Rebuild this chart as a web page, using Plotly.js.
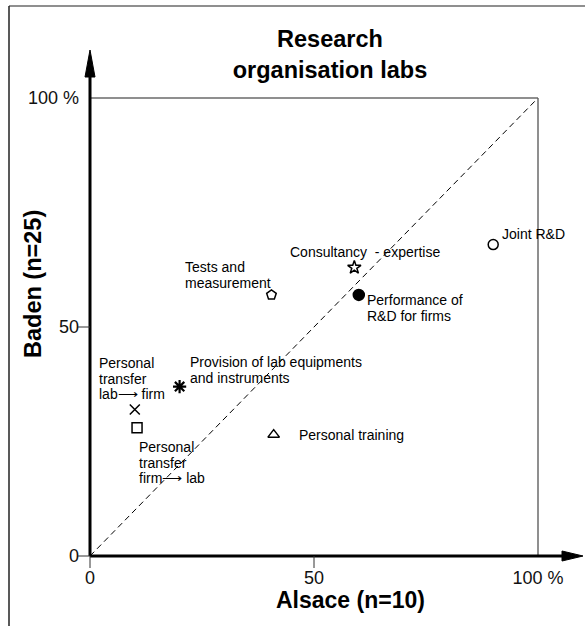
<!DOCTYPE html>
<html>
<head>
<meta charset="utf-8">
<script src="https://cdn.plot.ly/plotly-3.0.1.min.js"></script>
<style>html,body{margin:0;padding:0;background:#fff;}#chart{width:585px;height:626px;}</style>
</head>
<body>
<div id="chart"></div>
<script>
// ---- data ----
const activities = ["Joint R&D", "Consultancy - expertise", "Performance of R&D for firms",
  "Tests and measurement", "Provision of lab equipments and instruments",
  "Personal transfer lab → firm", "Personal transfer firm → lab", "Personal training"];
const alsace = [90, 59, 60, 40.5, 20, 10, 10.5, 41];
const baden  = [68, 63, 57, 57, 37, 32, 28, 26.5];
const symbols = ["circle-open", "star-open", "circle", "pentagon-open", "asterisk-open",
  "x-thin-open", "square-open", "triangle-up-open"];
const tickValues = [0, 50, 100];
const tickLabels = ["0", "50", "100 %"];
const tickMarks = [0, 50];
const diagonal = [0, 100];

// ---- layout helpers (pixel -> paper) ----
const L = 90, T = 98, W = 448, H = 458;
const px = v => (v - L) / W;
const py = v => (T + H - v) / H;

const font = "Liberation Sans, Arial, sans-serif";
const markerSizes = [10, 10, 11, 10, 11, 10, 10, 10];

const traces = [
  {x: diagonal, y: diagonal, mode: "lines", type: "scatter",
   line: {color: "#000", width: 1, dash: "6px,4px"}, hoverinfo: "skip", cliponaxis: false},
  {x: alsace, y: baden, text: activities, mode: "markers", type: "scatter",
   marker: {symbol: symbols, size: markerSizes, color: "#000", opacity: 1,
            line: {color: "#000", width: symbols.map(s => s === "asterisk-open" ? 2.2 : 1.5)}},
   cliponaxis: false}
];

// label text, placed by line
const labelDefs = [
  {lines: ["Joint R&D"], x: 500, y: 234},
  {lines: ["Consultancy\u00a0\u00a0- expertise"], x: 288, y: 252},
  {lines: ["Performance of", "R&D for firms"], x: 365, y: 300},
  {lines: ["Tests and", "measurement"], x: 183, y: 267},
  {lines: ["Provision of lab equipments", "and instruments"], x: 188, y: 362},
  {lines: ["Personal", "transfer", "lab\u27F6 firm"], x: 97, y: 363},
  {lines: ["Personal", "transfer", "firm\u27F6 lab"], x: 137, y: 447},
  {lines: ["Personal training"], x: 297, y: 435}
];
const annotations = [];
labelDefs.forEach(d => {
  d.lines.forEach((t, i) => {
    annotations.push({xref: "paper", yref: "paper", x: px(d.x), y: py(d.y + i * 15.7),
      xanchor: "left", yanchor: "middle", text: t, showarrow: false,
      font: {family: font, size: 14, color: "#000"}});
  });
});
annotations.push({xref: "paper", yref: "paper", x: px(350), y: py(600), xanchor: "center", yanchor: "middle",
  text: "<b>Alsace (n=10)</b>", showarrow: false, font: {family: font, size: 23, color: "#000"}});
annotations.push({xref: "paper", yref: "paper", x: px(33), y: py(284), xanchor: "center", yanchor: "middle",
  text: "<b>Baden (n=25)</b>", textangle: -90, showarrow: false, font: {family: font, size: 23.5, color: "#000"}});

const shapes = [];
const gray = "#6a6a6a";
// outer frame (top and left)
shapes.push({type: "line", xref: "paper", yref: "paper", x0: px(9), x1: px(590), y0: py(6), y1: py(6), line: {color: gray, width: 1.5}});
shapes.push({type: "line", xref: "paper", yref: "paper", x0: px(9), x1: px(9), y0: py(6), y1: py(630), line: {color: "#222", width: 1.5}});
// inner frame top/right
shapes.push({type: "line", xref: "paper", yref: "paper", x0: 0, x1: 1, y0: 1, y1: 1, line: {color: gray, width: 1.5}});
shapes.push({type: "line", xref: "paper", yref: "paper", x0: 1, x1: 1, y0: 0, y1: 1, line: {color: gray, width: 1.5}});
// axes lines
shapes.push({type: "line", xref: "paper", yref: "paper", x0: 0, x1: 0, y0: 0, y1: py(70), line: {color: "#000", width: 3}});
shapes.push({type: "line", xref: "paper", yref: "paper", x0: 0, x1: px(565), y0: 0, y1: 0, line: {color: "#000", width: 3}});
// arrow heads
shapes.push({type: "path", xref: "paper", yref: "paper",
  path: `M ${px(85)} ${py(77)} L ${px(95)} ${py(77)} L ${px(90)} ${py(50)} Z`, fillcolor: "#000", line: {color: "#000", width: 1}});
shapes.push({type: "path", xref: "paper", yref: "paper",
  path: `M ${px(562)} ${py(551)} L ${px(562)} ${py(561)} L ${px(583)} ${py(556)} Z`, fillcolor: "#000", line: {color: "#000", width: 1}});
// tick marks
tickMarks.forEach(v => {
  shapes.push({type: "line", xref: "paper", yref: "paper", x0: v / 100, x1: v / 100, y0: 0, y1: py(568), line: {color: "#333", width: 1}});
  shapes.push({type: "line", xref: "paper", yref: "paper", x0: px(78), x1: 0, y0: v / 100, y1: v / 100, line: {color: "#333", width: 1}});
});

const axisCommon = {range: [0, 100], tickvals: tickValues, ticktext: tickLabels, ticks: "",
  showgrid: false, zeroline: false, showline: false, fixedrange: true,
  tickfont: {family: font, size: 18, color: "#111"}};

const layout = {
  width: 585, height: 626,
  margin: {l: L, r: 585 - L - W, t: T, b: 626 - T - H},
  paper_bgcolor: "#fff", plot_bgcolor: "#fff",
  showlegend: false,
  title: {text: "<b>Research<br>organisation labs</b>", x: 330 / 585, xanchor: "center",
          y: 1 - 47 / 626, yanchor: "middle", font: {family: font, size: 23.5, color: "#000"}},
  xaxis: Object.assign({}, axisCommon, {ticklabelstandoff: 9}),
  yaxis: Object.assign({}, axisCommon, {ticklabelstandoff: 10}),
  annotations: annotations,
  shapes: shapes
};

Plotly.newPlot("chart", traces, layout, {staticPlot: true, displayModeBar: false});
</script>
</body>
</html>
